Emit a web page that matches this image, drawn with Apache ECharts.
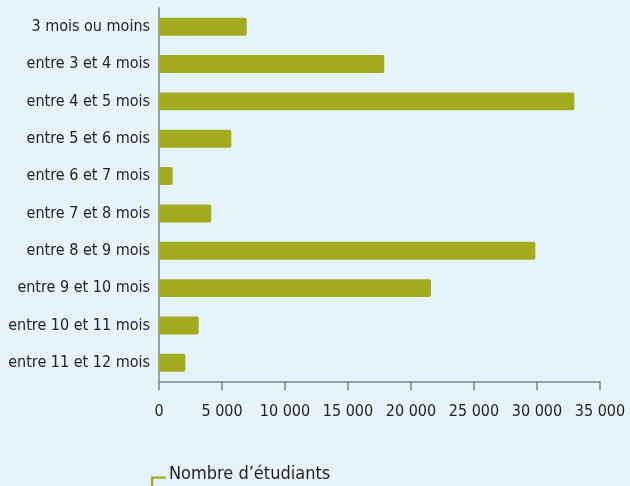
<!DOCTYPE html>
<html>
<head>
<meta charset="utf-8">
<script src="https://cdn.jsdelivr.net/npm/echarts@6/dist/echarts.min.js"></script>
<style>
html,body{margin:0;padding:0;background:#e6f3fb;}
#c{width:630px;height:486px;}
</style>
</head>
<body>
<div id="c"></div>
<script>
const categories = ['3 mois ou moins','entre 3 et 4 mois','entre 4 et 5 mois','entre 5 et 6 mois','entre 6 et 7 mois','entre 7 et 8 mois','entre 8 et 9 mois','entre 9 et 10 mois','entre 10 et 11 mois','entre 11 et 12 mois'];
const students = [6960, 17880, 32960, 5740, 1090, 4150, 29870, 21590, 3150, 2090];
const seriesName = 'Nombre d\u2019étudiants';
const xMax = 35000;
const xInterval = 5000;

const FONT = "'Liberation Sans Narrow', 'DejaVu Sans Condensed', sans-serif";
const OLIVE = '#a3ab1f';
const chart = echarts.init(document.getElementById('c'));
chart.setOption({
  backgroundColor: '#e6f3fb',
  animation: false,
  grid: { left: 159, right: 30, top: 8, bottom: 104.5, containLabel: false, outerBoundsMode: 'none' },
  xAxis: {
    type: 'value', min: 0, max: xMax, interval: xInterval,
    axisLine: { show: true, lineStyle: { color: '#7b8892', width: 1.5 } },
    axisTick: { show: true, length: 9, lineStyle: { color: '#7b8892', width: 1.5 } },
    splitLine: { show: false },
    axisLabel: {
      margin: 22, fontFamily: FONT, fontSize: 16, color: '#231f20',
      formatter: v => String(v).replace(/\B(?=(\d{3})+(?!\d))/g, ' ')
    }
  },
  yAxis: {
    type: 'category', data: categories, inverse: true,
    axisLine: { show: true, lineStyle: { color: '#7b8892', width: 1.5 } },
    axisTick: { show: false },
    axisLabel: { margin: 9, fontFamily: FONT, fontSize: 16, color: '#231f20' }
  },
  legend: {
    left: 151, top: 462, padding: 0,
    itemWidth: 15, itemHeight: 24, itemGap: 10,
    icon: 'path://M0,0 M0,14.5 L15,14.5 L15,16.8 L2.3,16.8 L2.3,24 L0,24 Z',
    textStyle: { fontFamily: FONT, fontSize: 18, color: '#231f20', padding: [0,0,0,-2] },
    data: [seriesName]
  },
  series: [{
    name: seriesName, type: 'bar', data: students,
    barCategoryGap: '52%',
    itemStyle: { color: OLIVE, borderRadius: 2 }
  }]
});
</script>
</body>
</html>
